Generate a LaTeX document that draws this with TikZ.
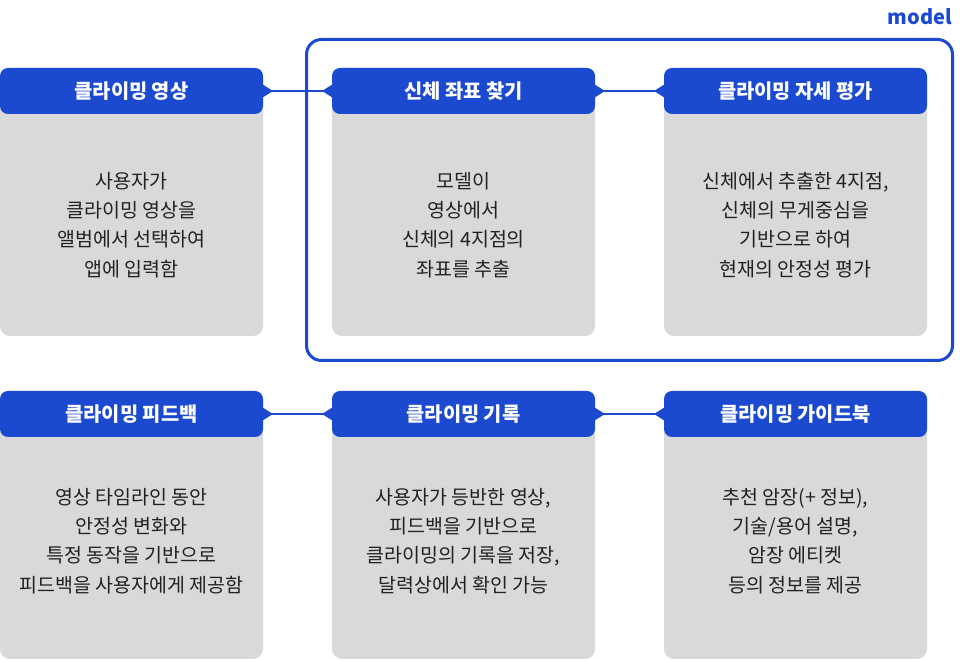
\documentclass[tikz,border=0pt]{standalone}
\usepackage{fontspec}
\setmainfont{Noto Sans CJK KR}
\usepackage{tikz}
\usetikzlibrary{arrows.meta, positioning, fit, backgrounds}
\definecolor{bluehead}{RGB}{27,73,208}
\definecolor{graybody}{RGB}{217,217,217}
\definecolor{darktext}{RGB}{34,34,34}
\tikzset{
  hdr/.style={
    rectangle, rounded corners=8pt, minimum width=263pt,
    minimum height=46pt, inner sep=0pt, outer sep=0pt,
    fill=bluehead, text=white, font=\fontsize{19.8}{24}\selectfont\bfseries
  },
  desc/.style={
    rectangle, minimum width=263pt, minimum height=222pt,
    inner sep=0pt, outer sep=0pt, align=center, text=darktext,
    font=\fontsize{19.5}{29.3}\selectfont
  },
  descl/.style={desc, minimum height=236pt},
  panel/.style={rectangle, rounded corners=10pt, fill=graybody, inner sep=0pt},
  conn/.style={{Triangle[reversed,length=10pt,width=12pt]}-{Triangle[reversed,length=10pt,width=12pt]},
    draw=bluehead, line width=2pt},
  modelbox/.style={rectangle, draw=bluehead, line width=3pt, rounded corners=15pt},
  modeltxt/.style={text=bluehead, inner sep=0pt, font=\fontsize{20}{24}\selectfont\bfseries}
}

\begin{document}
\begin{tikzpicture}[x=1pt, y=1pt]
  \useasboundingbox (0,0) rectangle (965,660);

  % upper row
  \node[hdr] (h1) at (131.5,569) {클라이밍 영상};
  \node[hdr, right=69pt of h1] (h2) {신체 좌표 찾기};
  \node[hdr, right=69pt of h2] (h3) {클라이밍 자세 평가};
  \node[desc, below=0pt of h1] (b1)
        {사용자가\\클라이밍 영상을\\앨범에서 선택하여\\앱에 입력함};
  \node[desc, below=0pt of h2] (b2)
        {모델이\\영상에서\\신체의 4지점의\\좌표를 추출};
  \node[desc, below=0pt of h3] (b3)
        {신체에서 추출한 4지점,\\신체의 무게중심을\\기반으로 하여\\현재의 안정성 평가};

  % lower row
  \node[hdr, below=55pt of b1] (h4) {클라이밍 피드백};
  \node[hdr, right=69pt of h4] (h5) {클라이밍 기록};
  \node[hdr, right=69pt of h5] (h6) {클라이밍 가이드북};
  \node[descl, below=-14pt of h4] (b4)
        {영상 타임라인 동안\\안정성 변화와\\특정 동작을 기반으로\\피드백을 사용자에게 제공함};
  \node[descl, below=-14pt of h5] (b5)
        {사용자가 등반한 영상,\\피드백을 기반으로\\클라이밍의 기록을 저장,\\달력상에서 확인 가능};
  \node[descl, below=-14pt of h6] (b6)
        {추천 암장(+ 정보),\\기술/용어 설명,\\암장 에티켓\\등의 정보를 제공};

  \begin{scope}[on background layer]
    \foreach \i in {1,...,6}
      \node[panel, fit=(h\i)(b\i)] {};
  \end{scope}

  \draw[conn] (h1) -- (h2);
  \draw[conn] (h2) -- (h3);
  \draw[conn] (h4) -- (h5);
  \draw[conn] (h5) -- (h6);

  \node[modelbox, fit=(h2)(b3), inner xsep=25.5pt, inner ysep=26.5pt, yshift=2pt] (model) {};
  \node[modeltxt, anchor=base east] (mlbl) at ([xshift=-2pt,yshift=13.5pt]model.north east) {model};
\end{tikzpicture}
\end{document}
